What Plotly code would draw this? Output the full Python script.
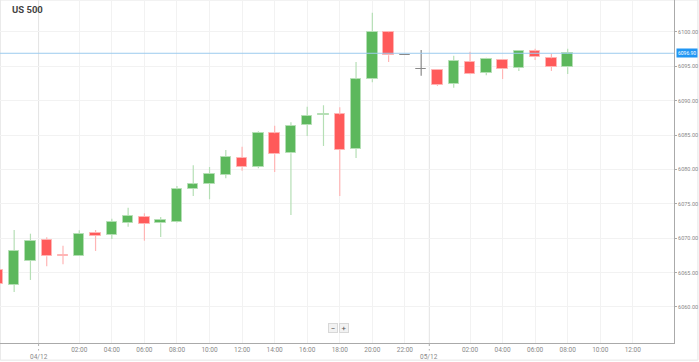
import plotly.graph_objects as go

# Hourly candles; hour index relative to 04/12 00:00
hours = list(range(-3, 33))
opens = [6065.38, 6063.24, 6066.69, 6069.75, 6067.52, 6067.46, 6070.81, 6070.47, 6072.17, 6073.09,
         6072.17, 6072.41, 6077.21, 6077.93, 6079.24, 6081.72, 6080.41, 6085.27, 6082.36, 6086.47,
         6087.97, 6088.00, 6082.98, 6093.12, 6099.96, 6096.65, 6094.62, 6094.47, 6092.44, 6095.68,
         6094.04, 6095.93, 6094.72, 6097.19, 6096.17, 6094.87]
highs = [6065.70, 6071.20, 6070.66, 6070.14, 6068.92, 6071.16, 6071.20, 6072.84, 6074.44, 6073.63,
         6073.09, 6077.60, 6080.61, 6080.36, 6082.84, 6083.32, 6085.56, 6086.37, 6086.87, 6089.13,
         6089.34, 6089.05, 6095.64, 6102.81, 6100.00, 6096.65, 6097.38, 6094.50, 6096.55, 6097.13,
         6096.26, 6096.00, 6097.30, 6097.57, 6096.84, 6097.57]
lows = [6063.00, 6062.18, 6063.93, 6065.92, 6066.21, 6067.40, 6068.15, 6069.89, 6071.68, 6069.64,
        6070.18, 6072.30, 6076.15, 6075.67, 6078.72, 6079.83, 6080.17, 6079.64, 6073.38, 6084.87,
        6083.42, 6076.15, 6081.67, 6092.68, 6095.64, 6096.65, 6093.64, 6092.15, 6091.90, 6093.80,
        6093.70, 6093.16, 6094.33, 6095.93, 6094.33, 6093.89]
closes = [6063.35, 6068.15, 6069.64, 6067.37, 6067.42, 6070.66, 6070.33, 6072.36, 6073.24, 6072.07,
          6072.61, 6077.12, 6077.85, 6079.39, 6081.86, 6080.32, 6085.35, 6082.21, 6086.37, 6087.85,
          6088.12, 6082.84, 6093.12, 6100.04, 6096.61, 6096.65, 6094.62, 6092.29, 6095.83, 6093.85,
          6096.07, 6094.57, 6097.28, 6096.32, 6094.95, 6096.90]
current_price = 6096.90

y_ticks = [6060, 6065, 6070, 6075, 6080, 6085, 6090, 6095, 6100]
time_ticks = [2, 4, 6, 8, 10, 12, 14, 16, 18, 20, 22, 26, 28, 30, 32, 34, 36]
date_ticks = [-0.5, 23.5]
date_labels = ["04/12", "05/12"]

GREEN = "#5cb85c"
GREEN_L = "#b5dfb5"
RED = "#ff5a5a"
RED_L = "#ffb5b5"
GREY = "#8a8a8a"

def kind(o, c):
    if c > o + 0.05:
        return "up"
    if c < o - 0.05:
        return "down"
    return "flat"

body_col = {"up": GREEN, "down": RED, "flat": GREY}
wick_col = {"up": GREEN_L, "down": RED_L, "flat": GREY}

fig = go.Figure()

# wicks (split above and below body)
for k in ["up", "down", "flat"]:
    xs, ys = [], []
    for h, o, hi, lo, c in zip(hours, opens, highs, lows, closes):
        if kind(o, c) != k:
            continue
        top, bot = max(o, c), min(o, c)
        if hi > top:
            xs += [h, h, None]
            ys += [hi, top, None]
        if lo < bot:
            xs += [h, h, None]
            ys += [bot, lo, None]
    fig.add_trace(go.Scatter(x=xs, y=ys, mode="lines",
                             line=dict(color=wick_col[k], width=1.2),
                             hoverinfo="skip", showlegend=False))

# bodies
bases, heights, fills, borders = [], [], [], []
for o, c in zip(opens, closes):
    k = kind(o, c)
    b = min(o, c)
    hgt = abs(c - o)
    if hgt < 0.12:
        b = (o + c) / 2 - 0.06
        hgt = 0.12
    bases.append(b)
    heights.append(hgt)
    fills.append(body_col[k])
    borders.append(wick_col[k] if k != "flat" else GREY)

fig.add_trace(go.Bar(x=hours, y=heights, base=bases, width=0.64,
                     marker=dict(color=fills, line=dict(color=borders, width=1)),
                     hoverinfo="skip", showlegend=False))

# current price line
fig.add_hline(y=current_price, line=dict(color="#9ccbee", width=1))

# date grid lines and dotted ticks
shapes = []
for d in date_ticks:
    shapes.append(dict(type="line", xref="x", yref="paper", x0=d, x1=d, y0=0, y1=1,
                       line=dict(color="#e3e3e3", width=1), layer="below"))
    shapes.append(dict(type="line", xref="x", yref="paper", x0=d, x1=d, y0=0, y1=-0.022,
                       line=dict(color="#b0b0b0", width=1, dash="dot")))
# outer frame
shapes.append(dict(type="rect", xref="paper", yref="paper", x0=0.0005, x1=1.0355, y0=-0.05, y1=1.0,
                   line=dict(color="#e6e6e6", width=1), layer="below"))
for s in shapes:
    fig.add_shape(**s)

annotations = []
for d, lab in zip(date_ticks, date_labels):
    annotations.append(dict(x=d, xref="x", y=0, yref="paper", text=lab, showarrow=False,
                            yanchor="top", yshift=-8, font=dict(size=6.5, color="#888888",
                                                                 family="Roboto")))
annotations.append(dict(x=10 / 674, xref="paper", y=1 - 10 / 343, yref="paper",
                        text="<b>US 500</b>", showarrow=False, xanchor="left", yanchor="middle",
                        font=dict(size=9.5, color="#444444", family="Roboto")))
annotations.append(dict(x=1, xref="paper", y=current_price, yref="y",
                        text=f"{current_price:.2f}", showarrow=False, xanchor="left",
                        xshift=2, bgcolor="#2196f3", borderpad=1,
                        font=dict(size=5, color="white", family="Roboto")))
annotations.append(dict(x=333 / 674, xref="paper", y=1 - 333 / 343, yref="paper", text="−",
                        showarrow=False, bgcolor="#f2f2f2", bordercolor="#d8d8d8", borderwidth=1,
                        borderpad=0, width=8, height=8,
                        font=dict(size=8, color="#555555", family="Roboto")))
annotations.append(dict(x=344 / 674, xref="paper", y=1 - 333 / 343, yref="paper", text="+",
                        showarrow=False, bgcolor="#f2f2f2", bordercolor="#d8d8d8", borderwidth=1,
                        borderpad=0, width=8, height=8,
                        font=dict(size=8, color="#555555", family="Roboto")))

fig.update_layout(
    width=699, height=362,
    margin=dict(l=0, r=25, t=0, b=19),
    paper_bgcolor="white", plot_bgcolor="white",
    barmode="overlay", bargap=0,
    annotations=annotations,
    font=dict(family="Roboto", color="#888888"),
)

fig.update_xaxes(
    range=[-2.87, 38.53],
    tickmode="array", tickvals=time_ticks,
    ticktext=[f"{(t % 24):02d}:00" for t in time_ticks],
    tickfont=dict(size=6.5, color="#888888", family="Roboto"),
    showgrid=True, gridcolor="#f2f2f2", gridwidth=1,
    showline=True, linecolor="#aaaaaa", linewidth=1,
    ticks="", zeroline=False, fixedrange=True,
)
fig.update_yaxes(
    range=[6054.76, 6104.65], side="right",
    tickmode="array", tickvals=y_ticks, ticktext=[f"{v:.2f}" for v in y_ticks],
    tickfont=dict(size=5.5, color="#888888", family="Roboto"),
    showgrid=True, gridcolor="#f2f2f2", gridwidth=1,
    showline=True, linecolor="#aaaaaa", linewidth=1,
    ticks="outside", ticklen=2, tickcolor="#aaaaaa",
    zeroline=False, fixedrange=True,
)

fig.write_html("out.html", config={"displayModeBar": False},
               post_script="document.body.style.margin='0';document.body.style.overflow='hidden';")
